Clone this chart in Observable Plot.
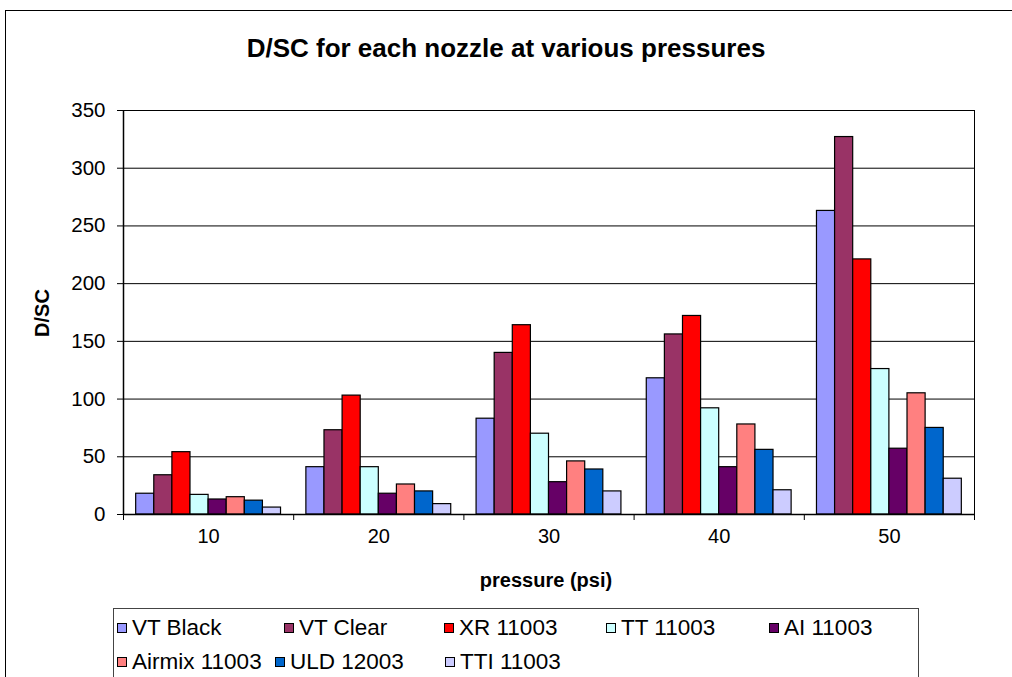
<!DOCTYPE html>
<html>
<head>
<meta charset="utf-8">
<script src="https://cdn.jsdelivr.net/npm/d3@7"></script>
<script src="https://cdn.jsdelivr.net/npm/@observablehq/plot@0.6"></script>
<style>
  html, body { margin: 0; padding: 0; background: #fff; overflow: hidden; }
  #page { position: relative; width: 1012px; height: 677px; font-family: "Liberation Sans", Arial, sans-serif; color: #000; }
  #outer { position: absolute; left: 5px; top: 10px; width: 1040px; height: 720px; border: 1px solid #000; box-sizing: border-box; }
  #chart { position: absolute; left: 0; top: 0; }
  #title { position: absolute; left: 0; width: 1012px; top: 48px; text-align: center; font-weight: bold; font-size: 26px; transform: translateY(-50%); }
  #ylabel { position: absolute; left: 42px; top: 313px; font-weight: bold; font-size: 20px; transform: translate(-50%, -50%) rotate(-90deg); white-space: nowrap; }
  #xlabel { position: absolute; left: 546px; top: 580px; font-weight: bold; font-size: 20px; transform: translate(-50%, -50%); white-space: nowrap; }
  #legend { position: absolute; left: 113px; top: 608px; width: 806px; height: 120px; border: 1px solid #444; box-sizing: border-box; }
  .item { position: absolute; display: flex; align-items: center; font-size: 22.5px; white-space: nowrap; transform: translateY(-50%); }
  .sw { width: 10px; height: 10px; border: 1px solid #000; margin-right: 5px; box-sizing: border-box; }
</style>
</head>
<body>
<div id="page">
  <div id="outer"></div>
  <div id="chart"></div>
  <div id="title">D/SC for each nozzle at various pressures</div>
  <div id="ylabel">D/SC</div>
  <div id="xlabel">pressure (psi)</div>
  <div id="legend"></div>
</div>
<script>
// Pressure groups (psi) along the x axis
const pressures = [10, 20, 30, 40, 50];

// Nozzle series and their fill colours
const seriesNames = ["VT Black", "VT Clear", "XR 11003", "TT 11003", "AI 11003", "Airmix 11003", "ULD 12003", "TTI 11003"];
const seriesColors = ["#9999FF", "#993366", "#FF0000", "#CCFFFF", "#660066", "#FF8080", "#0066CC", "#CCCCFF"];

// D/SC values per nozzle, one per pressure
const vtBlack   = [18, 41, 83, 118, 263];
const vtClear   = [34, 73, 140, 156, 327];
const xr11003   = [54, 103, 164, 172, 221];
const tt11003   = [17, 41, 70, 92, 126];
const ai11003   = [13, 18, 28, 41, 57];
const airmix    = [15, 26, 46, 78, 105];
const uld12003  = [12, 20, 39, 56, 75];
const tti11003  = [6, 9, 20, 21, 31];

// Y axis ticks
const yTicks = [0, 50, 100, 150, 200, 250, 300, 350];

const seriesValues = [vtBlack, vtClear, xr11003, tt11003, ai11003, airmix, uld12003, tti11003];

// Long-form table: one row per bar
const rows = [];
seriesNames.forEach((name, j) => {
  pressures.forEach((p, i) => {
    rows.push({series: name, j, group: i, pressure: p, value: seriesValues[j][i]});
  });
});

// Each pressure group spans one unit on x; bars share it with a gap
// of 1.4 bar widths split across both sides of the cluster.
const nBars = seriesNames.length;
const gapBars = 1.4;
const bw = 1 / (nBars + gapBars);
const lead = (gapBars / 2) * bw;

const chart = Plot.plot({
  width: 1012,
  height: 600,
  marginLeft: 123,
  marginRight: 38,
  marginTop: 110,
  marginBottom: 86,
  style: {fontFamily: "'Liberation Sans', Arial, sans-serif", fontSize: "20px", color: "#000", background: "transparent", overflow: "visible"},
  x: {domain: [0, pressures.length]},
  y: {domain: [0, 350]},
  color: {domain: seriesNames, range: seriesColors},
  marks: [
    Plot.ruleY(yTicks, {stroke: "#000", strokeWidth: 1}),
    Plot.rectY(rows, {
      x1: d => d.group + lead + d.j * bw,
      x2: d => d.group + lead + (d.j + 1) * bw,
      y1: 0,
      y2: "value",
      fill: "series",
      stroke: "#000",
      strokeWidth: 1.2
    }),
    Plot.ruleX([0], {stroke: "#000", strokeWidth: 1.5}),
    Plot.ruleX([pressures.length], {stroke: "#000", strokeWidth: 1}),
    Plot.ruleY([0], {stroke: "#000", strokeWidth: 1.5}),
    Plot.axisY({ticks: yTicks, tickSize: 6, tickPadding: 12, label: null, fontSize: 20.5}),
    Plot.axisX({ticks: d3.range(0, pressures.length + 1), tickSize: 6, tickFormat: () => "", label: null}),
    Plot.axisX({
      ticks: pressures.map((_, i) => i + 0.5),
      tickSize: 0,
      tickPadding: 14,
      tickFormat: t => String(pressures[Math.floor(t)]),
      label: null,
      fontSize: 20
    })
  ]
});
document.getElementById("chart").appendChild(chart);

// Legend: two rows inside a bordered box
const legendSlots = [
  [3, 19], [170, 19], [330, 19], [492, 19], [655, 19],
  [3, 53], [161, 53], [331, 53]
];
const legend = document.getElementById("legend");
seriesNames.forEach((name, j) => {
  const item = document.createElement("div");
  item.className = "item";
  item.style.left = legendSlots[j][0] + "px";
  item.style.top = legendSlots[j][1] + "px";
  const sw = document.createElement("div");
  sw.className = "sw";
  sw.style.background = seriesColors[j];
  const label = document.createElement("span");
  label.textContent = name;
  item.appendChild(sw);
  item.appendChild(label);
  legend.appendChild(item);
});
</script>
</body>
</html>
